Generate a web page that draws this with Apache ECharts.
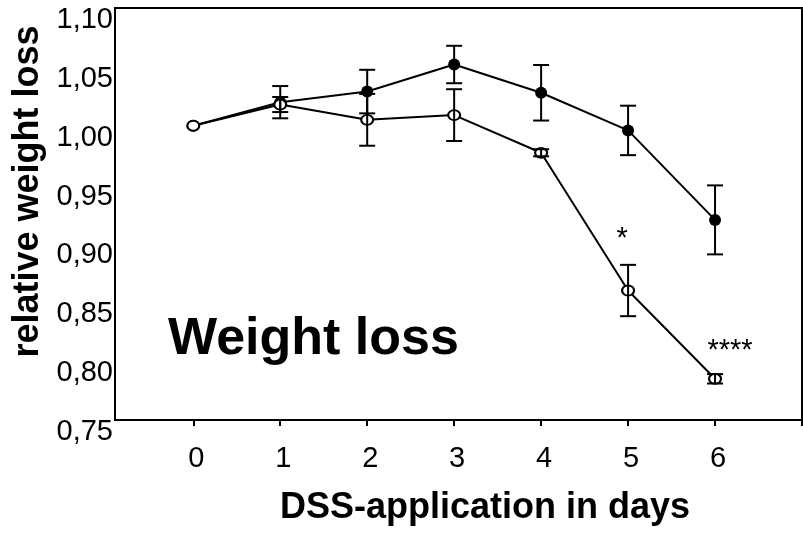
<!DOCTYPE html>
<html>
<head>
	<meta charset="UTF-8" />
	<title>Weight loss</title>
	<script src="https://cdn.jsdelivr.net/npm/echarts@6/dist/echarts.min.js"></script>
	<style type="text/css">
		body {
			margin: 0;
			background-color: #ffffff;
		}

		#chart {
			width: 803px;
			height: 533px;
		}
	</style>
</head>
<body>
	<div id="chart"></div>

	<script>
		//--------------------------- 資料 ---------------------------//

		const days = [0, 1, 2, 3, 4, 5, 6];
		const tickDays = [0, 1, 2, 3, 4, 5, 6, 7];

		// 實心圓
		const filledMean = [1.000, 1.020, 1.029, 1.052, 1.028, 0.996, 0.920];
		const filledErr = [0, 0.0137, 0.0185, 0.0159, 0.0236, 0.021, 0.0293];

		// 空心圓
		const openMean = [1.000, 1.018, 1.005, 1.009, 0.977, 0.860, 0.785];
		const openErr = [0, 0.0064, 0.022, 0.022, 0.003, 0.0218, 0.004];

		// 顯著性標記
		const sigLabels = ['', '', '', '', '', '*', '****'];

		const yTicks = [0.75, 0.80, 0.85, 0.90, 0.95, 1.00, 1.05, 1.10];

		//--------------------------- 圖表 ---------------------------//

		const toPairs = (ys) => days.map((d, i) => [d, ys[i]]);

		const errData = [];
		days.forEach((d, i) => {
			if (filledErr[i] > 0) errData.push([d, filledMean[i] - filledErr[i], filledMean[i] + filledErr[i]]);
			if (openErr[i] > 0) errData.push([d, openMean[i] - openErr[i], openMean[i] + openErr[i]]);
		});

		function renderErrorBar(params, api) {
			const x = api.value(0);
			const lo = api.coord([x, api.value(1)]);
			const hi = api.coord([x, api.value(2)]);
			const half = 8;
			const style = { stroke: '#000', lineWidth: 2 };
			return {
				type: 'group',
				children: [
					{ type: 'line', shape: { x1: lo[0], y1: lo[1], x2: hi[0], y2: hi[1] }, style: style },
					{ type: 'line', shape: { x1: lo[0] - half, y1: lo[1], x2: lo[0] + half, y2: lo[1] }, style: style },
					{ type: 'line', shape: { x1: hi[0] - half, y1: hi[1], x2: hi[0] + half, y2: hi[1] }, style: style }
				]
			};
		}

		const chart = echarts.init(document.getElementById('chart'));

		chart.setOption({
			animation: false,
			grid: {
				left: 115,
				right: 1,
				top: 8,
				bottom: 113,
				show: true,
				borderColor: '#000',
				borderWidth: 2,
				backgroundColor: '#fff'
			},
			xAxis: {
				type: 'value',
				min: -0.9,
				max: 7,
				name: 'DSS-application in days',
				nameLocation: 'middle',
				nameGap: 70,
				nameTextStyle: {
					fontFamily: 'Liberation Sans',
					fontWeight: 'bold',
					fontSize: 36,
					color: '#000',
					padding: [0, 0, 0, 53]
				},
				axisLine: { onZero: false, lineStyle: { color: '#000', width: 2 } },
				axisTick: {
					show: true,
					length: 6,
					lineStyle: { color: '#000', width: 2 },
					customValues: tickDays
				},
				axisLabel: {
					customValues: days,
					margin: 24,
					fontFamily: 'Liberation Sans',
					fontSize: 29,
					color: '#000',
					padding: [0, 0, 0, 6]
				},
				splitLine: { show: false }
			},
			yAxis: {
				type: 'value',
				min: 0.75,
				max: 1.10,
				name: 'relative weight loss',
				nameLocation: 'middle',
				nameGap: 66,
				nameTextStyle: {
					fontFamily: 'Liberation Sans',
					fontWeight: 'bold',
					fontSize: 36,
					color: '#000',
					padding: [0, 0, 0, 45]
				},
				axisLine: { show: true, onZero: false, lineStyle: { color: '#000', width: 2 } },
				axisTick: { show: false },
				axisLabel: {
					customValues: yTicks,
					margin: 2,
					fontFamily: 'Liberation Sans',
					fontSize: 29,
					lineHeight: 24,
					verticalAlign: 'top',
					color: '#000',
					formatter: (v) => v.toFixed(2).replace('.', ',')
				},
				splitLine: { show: false }
			},
			graphic: [{
				type: 'text',
				left: 168,
				top: 314,
				style: {
					text: 'Weight loss',
					font: 'bold 52px "Liberation Sans"',
					fill: '#000'
				}
			}],
			series: [
				{
					type: 'line',
					data: toPairs(filledMean),
					symbol: 'circle',
					symbolSize: 12,
					itemStyle: { color: '#000' },
					lineStyle: { color: '#000', width: 2 },
					z: 2
				},
				{
					type: 'line',
					data: toPairs(openMean),
					symbol: 'circle',
					symbolSize: [12, 10],
					itemStyle: { color: '#fff', borderColor: '#000', borderWidth: 2 },
					lineStyle: { color: '#000', width: 2 },
					label: {
						show: true,
						formatter: (p) => sigLabels[p.dataIndex],
						fontFamily: 'Liberation Sans',
						fontSize: 29,
						color: '#000',
						position: 'top'
					},
					labelLayout: (p) => {
						if (p.dataIndex === 5) return { dy: -26, dx: -6 };
						if (p.dataIndex === 6) return { dy: -2, dx: 15 };
						return {};
					},
					z: 3
				},
				{
					type: 'custom',
					data: errData,
					renderItem: renderErrorBar,
					z: 4
				}
			]
		});
	</script>
</body>
</html>
